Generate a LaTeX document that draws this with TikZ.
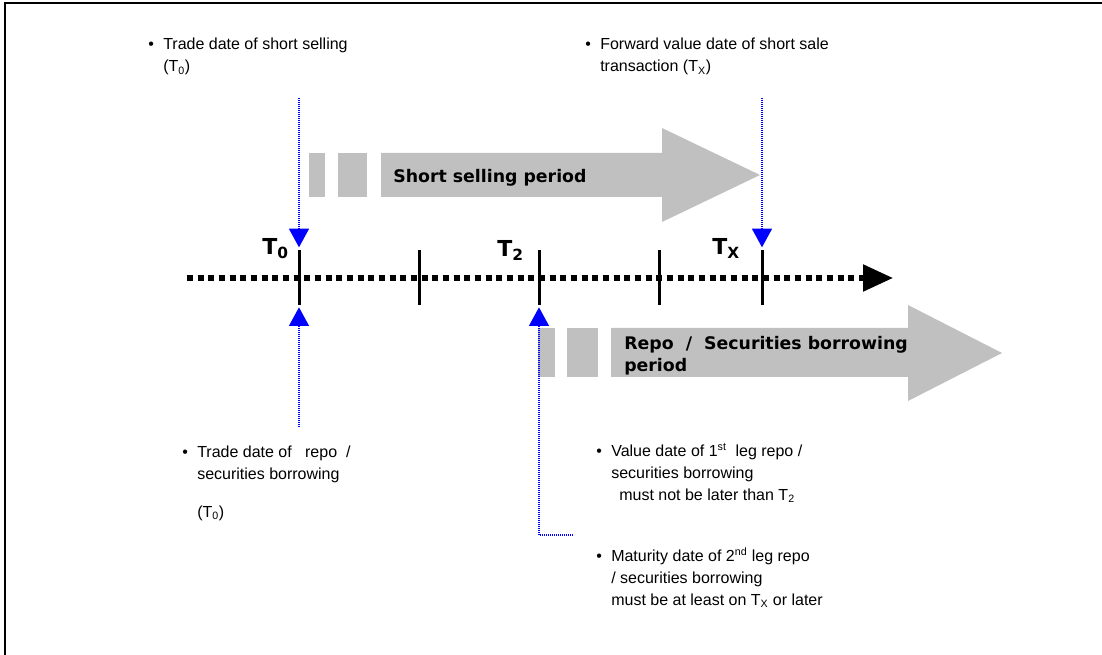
\documentclass[tikz,border=0pt]{standalone}
\usepackage{fontspec}
\setmainfont{Liberation Sans}
\newfontfamily\labelfont{DejaVu Sans}
\usetikzlibrary{arrows.meta}
\definecolor{silver}{HTML}{C0C0C0}
\newcommand{\bul}{\llap{\textbullet\hspace{7pt}}}
\begin{document}
\begin{tikzpicture}[x=0.75pt,y=-0.75pt,
	note/.style={anchor=base west, inner sep=0pt, align=left, font=\fontsize{12}{16.5}\selectfont},
	period/.style={anchor=base west, inner sep=0pt, align=left, font=\labelfont\bfseries\fontsize{13}{16.5}\selectfont},
	datelabel/.style={anchor=base west, inner sep=0pt, font=\labelfont\bfseries\fontsize{16.5}{20}\selectfont},
	tick/.style={line width=2.25pt},
	pointer/.style={blue, line width=1pt, dash pattern=on 0.75pt off 0.75pt, -{Triangle[length=14pt,width=15pt]}}]
	\useasboundingbox (0,0) rectangle (1102,655);
	\draw[line width=1.5pt] (5,655) -- (5,3) -- (1102,3);

	% time line
	\coordinate (start) at (187,278);
	\coordinate (end)   at (893,278);
	\coordinate (T0) at (299,278);
	\coordinate (T1) at (419,278);
	\coordinate (T2) at (539,278);
	\coordinate (T3) at (659,278);
	\coordinate (TX) at (762,278);
	\draw[line width=4pt, dash pattern=on 4.5pt off 3.5pt, -{Triangle[length=22.5pt,width=19.5pt]}] (start) -- (end);
	\foreach \t in {T0,T1,T2,T3,TX}
		\draw[tick] ([yshift=21pt]\t) -- ([yshift=-20pt]\t);

	\node (lT0) at (262,255)	[datelabel]	{T\textsubscript{0}};
	\node (lT2) at (497,257)	[datelabel]	{T\textsubscript{2}};
	\node (lTX) at (712,255)	[datelabel]	{T\textsubscript{X}};

	% short selling period
	\fill[silver] (309,153) rectangle (325,197);
	\fill[silver] (338,153) rectangle (367,197);
	\fill[silver] (381,153) -- (662,153) -- (662,128) -- (760,175) -- (662,222) -- (662,197) -- (381,197) -- cycle;
	\node (ssp) at (393,183)	[period]	{Short selling period};

	% repo period
	\fill[silver] (538,328) rectangle (555,377);
	\fill[silver] (567,328) rectangle (598,377);
	\fill[silver] (611,328) -- (908,328) -- (908,305) -- (1002,353) -- (908,401) -- (908,377) -- (611,377) -- cycle;
	\node (rp) at (624,372)	[period]	{Repo \ / \ Securities borrowing\\period};

	% notes (placed by the baseline of their last line)
	\node (ss)  at (163,72)	[note]	{\bul Trade date of short selling\\(T\textsubscript{0})};
	\node (fwd) at (600,72)	[note]	{\bul Forward value date of short sale\\transaction (T\textsubscript{X})};
	\node (rt)  at (197,517)	[note]	{\bul Trade date of \ \ repo \ /\\securities borrowing\\[12pt](T\textsubscript{0})};
	\node (vd)  at (611,500)	[note]	{\bul Value date of 1\textsuperscript{st}\ \ leg repo /\\securities borrowing\\\hspace*{6pt}must not be later than T\textsubscript{2}};
	\node (md)  at (611,605)	[note]	{\bul Maturity date of 2\textsuperscript{nd} leg repo\\/ securities borrowing\\must be at least on T\textsubscript{X} or later};

	% pointers
	\coordinate (ssfoot) at (299,98);
	\coordinate (fwdfoot) at (762,98);
	\coordinate (rtfoot) at (299,427);
	\coordinate (mdfoot) at (573,535);
	\draw[pointer] (ssfoot) -- ([yshift=23pt]T0);
	\draw[pointer] (fwdfoot) -- ([yshift=23pt]TX);
	\draw[pointer] (rtfoot) -- ([yshift=-22pt]T0);
	\draw[pointer] (mdfoot) -| ([yshift=-22pt]T2);
\end{tikzpicture}
\end{document}
